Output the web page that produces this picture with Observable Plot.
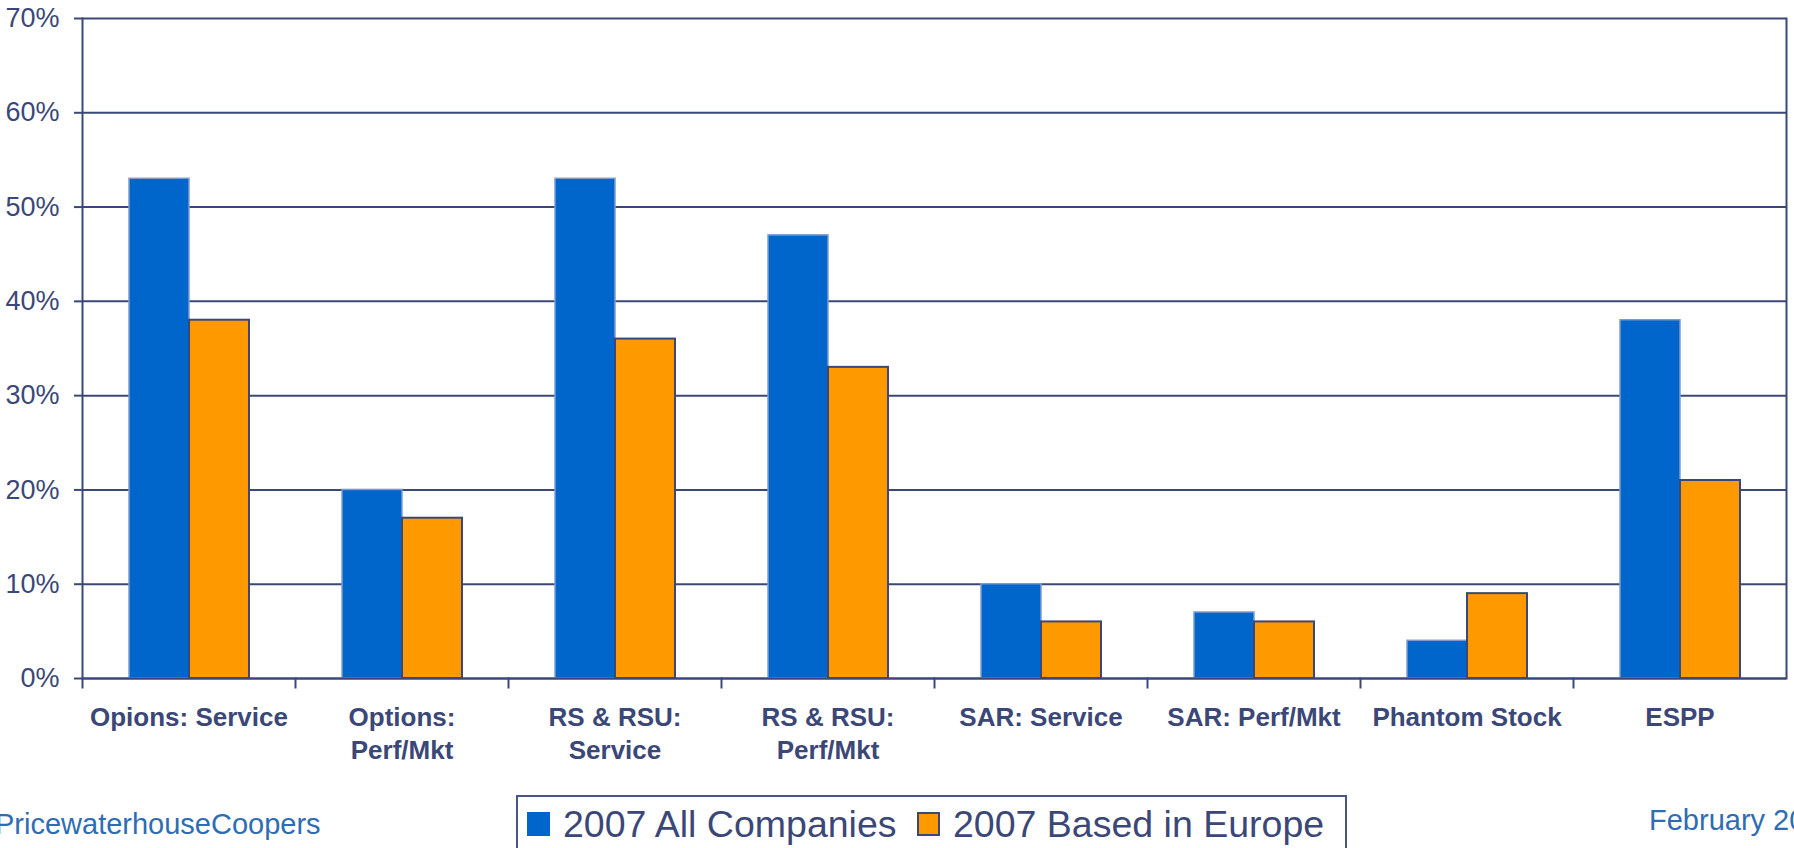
<!DOCTYPE html>
<html><head><meta charset="utf-8">
<script src="https://cdn.jsdelivr.net/npm/d3@7"></script>
<script src="https://cdn.jsdelivr.net/npm/@observablehq/plot@0.6"></script>
<style>
html,body{margin:0;padding:0;background:#fff;}
#wrap{position:relative;width:1794px;height:848px;overflow:hidden;font-family:"Liberation Sans",Arial,sans-serif;}
#chart{position:absolute;left:0;top:0;}
#legend{position:absolute;left:516px;top:795px;width:827px;height:80px;border:2px solid #4a5582;box-sizing:content-box;}
.sw{position:absolute;top:15px;width:23px;height:24px;box-sizing:border-box;}
.lt{position:absolute;top:0;font-size:37.5px;line-height:1;color:#3b4877;white-space:nowrap;}
#pwc{position:absolute;left:-5px;top:810px;font-size:29px;color:#2e6db4;white-space:nowrap;line-height:1;}
#date{position:absolute;left:1649px;top:806px;font-size:29px;color:#2e6db4;white-space:nowrap;line-height:1;}
</style></head><body>
<div id="wrap"><div id="chart"></div><div id="legend"></div>
<div id="pwc">PricewaterhouseCoopers</div><div id="date">February 2008</div></div>
<script>
const categories = ["Opions: Service","Options: Perf/Mkt","RS & RSU: Service","RS & RSU: Perf/Mkt","SAR: Service","SAR: Perf/Mkt","Phantom Stock","ESPP"];
const xLabels = ["Opions: Service","Options:\nPerf/Mkt","RS & RSU:\nService","RS & RSU:\nPerf/Mkt","SAR: Service","SAR: Perf/Mkt","Phantom Stock","ESPP"];
const series = ["2007 All Companies","2007 Based in Europe"];
const allCompanies = [53,20,53,47,10,7,4,38];
const basedInEurope = [38,17,36,33,6,6,9,21];
const yTicks = [0,10,20,30,40,50,60,70];
const colors = ["#0066CC","#FF9900"];
const swatchStrokes = ["#0066CC","#3b4877"];

const rows = categories.flatMap((c,i)=>[
  {category:c, series:series[0], value:allCompanies[i]},
  {category:c, series:series[1], value:basedInEurope[i]}
]);

const W=1794, H=790, mT=18, mB=112, mL=81, mR=7;
const plotH = H - mT - mB;
const ink = "#3b4877";

const chart = Plot.plot({
  width: W, height: H, marginTop: mT, marginBottom: mB, marginLeft: mL, marginRight: mR,
  style: {fontFamily: '"Liberation Sans", Arial, sans-serif', color: ink, background: "white", overflow: "visible"},
  fx: {domain: categories, padding: 0, label: null},
  x: {type: "band", domain: series, paddingInner: 0, paddingOuter: 0.75, axis: null},
  y: {domain: [0,70], label: null},
  color: {domain: series, range: colors},
  marks: [
    Plot.gridY(yTicks, {stroke: ink, strokeOpacity: 1, strokeWidth: 2}),
    Plot.frame({anchor: "left", stroke: ink, strokeWidth: 2, insetTop: plotH, insetBottom: -9}),
    Plot.frame({anchor: "left", facetAnchor: "left", stroke: ink, strokeWidth: 2}),
    Plot.frame({anchor: "right", facetAnchor: "right", stroke: ink, strokeWidth: 2}),
    Plot.barY(rows, {filter: d => d.series === series[0], fx: "category", x: "series", y: "value", fill: "series", stroke: "#7f9ccc", strokeWidth: 1.5}),
    Plot.barY(rows, {filter: d => d.series === series[1], fx: "category", x: "series", y: "value", fill: "series", stroke: ink, strokeWidth: 2}),
    Plot.ruleY([0], {stroke: ink, strokeWidth: 2}),
    Plot.axisY(yTicks, {tickSize: 8, tickPadding: 15, fontSize: 27, tickFormat: d => d + "%", stroke: ink, strokeWidth: 2, label: null}),
    Plot.axisFx({anchor: "bottom", tickSize: 0, tickPadding: 24, fontSize: 26, fontWeight: "bold", lineHeight: 1.27,
      tickFormat: c => xLabels[categories.indexOf(c)], label: null})
  ]
});
document.getElementById("chart").appendChild(chart);

// legend built from series/colors
const legend = document.getElementById("legend");
const offsets = [[9, 45], [399, 435]];
series.forEach((s, i) => {
  const sw = document.createElement("div");
  sw.className = "sw";
  sw.style.left = offsets[i][0] + "px";
  sw.style.background = colors[i];
  sw.style.border = "2px solid " + swatchStrokes[i];
  legend.appendChild(sw);
  const t = document.createElement("div");
  t.className = "lt";
  t.style.left = offsets[i][1] + "px";
  t.style.top = "9px";
  t.textContent = s;
  legend.appendChild(t);
});
</script>
</body></html>
